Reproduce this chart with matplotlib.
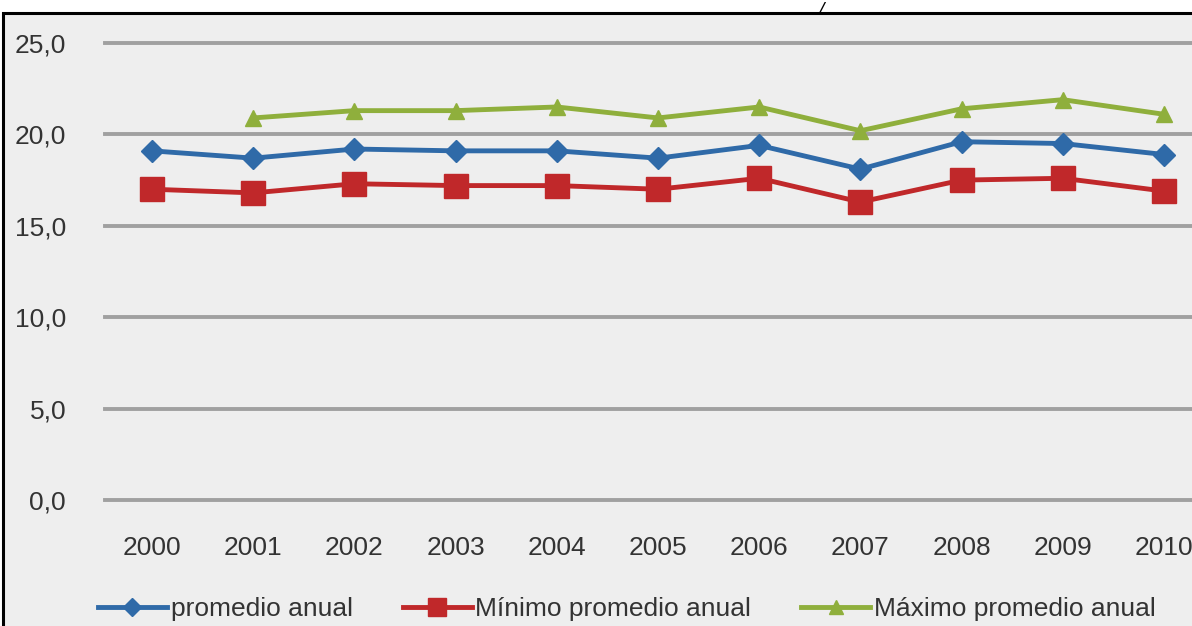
import matplotlib
matplotlib.use("Agg")
import matplotlib.pyplot as plt
from matplotlib.patches import Rectangle
import numpy as np

years = ["2000", "2001", "2002", "2003", "2004", "2005",
         "2006", "2007", "2008", "2009", "2010"]
promedio = [19.1, 18.7, 19.2, 19.1, 19.1, 18.7, 19.4, 18.1, 19.6, 19.5, 18.9]
minimo = [17.0, 16.8, 17.3, 17.2, 17.2, 17.0, 17.6, 16.3, 17.5, 17.6, 16.9]
maximo = [np.nan, 20.9, 21.3, 21.3, 21.5, 20.9, 21.5, 20.2, 21.4, 21.9, 21.1]
y_ticks = [0, 5, 10, 15, 20, 25]

W, H = 1192, 626
plt.rcParams['font.family'] = ['Liberation Sans Narrow', 'Liberation Sans', 'DejaVu Sans']

fig = plt.figure(figsize=(W / 100, H / 100), dpi=100)
fig.patch.set_facecolor('white')

# framed grey chart area
fig.patches.append(Rectangle((3 / W, -0.05), 1.2, 1.05 - 13 / H, transform=fig.transFigure,
                             facecolor='#eeeeee', edgecolor='black', linewidth=2.2,
                             zorder=-5))
fig.text(818 / W, 1 - 2 / H, "/", fontsize=14, style='italic', va='top',
         ha='left', color='black')

left, right = 105 / W, 1.0
bottom, top = 1 - 500 / H, 1 - 43 / H
ax = fig.add_axes([left, bottom, right - left, top - bottom])
ax.set_facecolor('none')

x = np.arange(len(years))
ax.plot(x, promedio, color='#2f6aa8', lw=3.5, marker='D', ms=11,
        label='promedio anual', clip_on=False, zorder=4)
ax.plot(x, minimo, color='#c0282a', lw=3.5, marker='s', ms=17,
        label='Mínimo promedio anual', clip_on=False, zorder=3)
ax.plot(x, maximo, color='#8faf3c', lw=3.5, marker='^', ms=12,
        label='Máximo promedio anual', clip_on=False, zorder=3)

ax.set_xlim((105 - 152) / 101.2, (1192 - 152) / 101.2)
ax.set_ylim(0, 25)
ax.set_yticks(y_ticks)
ax.set_yticklabels([f"{v:.1f}".replace('.', ',') for v in y_ticks])
ax.set_xticks(x)
ax.set_xticklabels(years)
ax.tick_params(axis='both', length=0, labelsize=19, colors='#333333')
ax.tick_params(axis='x', pad=26)
ax.tick_params(axis='y', pad=28)
ax.grid(axis='y', color='#a0a0a0', lw=2.8)
for gl in ax.get_ygridlines():
    gl.set_clip_on(False)
ax.set_axisbelow(True)
for s in ax.spines.values():
    s.set_visible(False)

fig.legend(loc='center', bbox_to_anchor=(627 / W, 1 - 609 / H), ncol=3,
           frameon=False, fontsize=19, handlelength=2.6, columnspacing=1.9,
           handletextpad=0.15, labelcolor='#333333', markerscale=0.8)

fig.savefig("out.png", dpi=100)
